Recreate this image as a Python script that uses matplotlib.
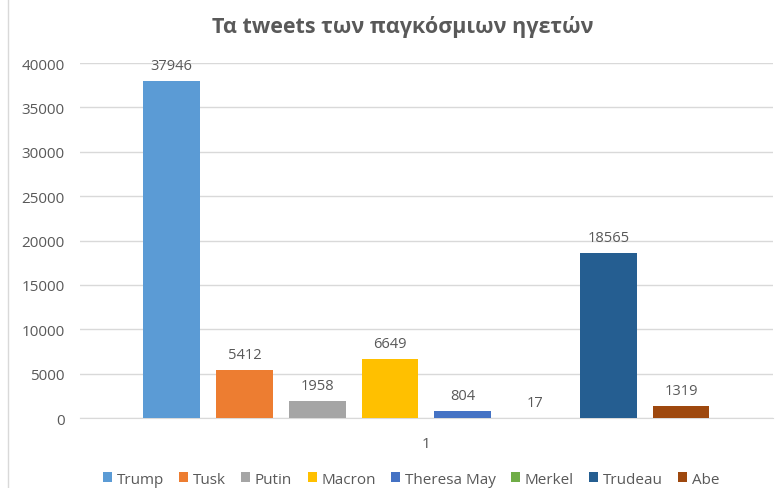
import matplotlib.pyplot as plt
from matplotlib.lines import Line2D

# Data
leaders = ['Trump', 'Tusk', 'Putin', 'Macron', 'Theresa May', 'Merkel', 'Trudeau', 'Abe']
tweets = [37946, 5412, 1958, 6649, 804, 17, 18565, 1319]
colors = ['#5B9BD5', '#ED7D31', '#A5A5A5', '#FFC000', '#4472C4', '#70AD47', '#255E91', '#9E480E']
category = '1'

plt.rcParams['font.family'] = ['Open Sans', 'DejaVu Sans']
text_color = '#595959'

fig = plt.figure(figsize=(7.83, 4.89), dpi=100)
ax = fig.add_axes([0.102, 0.143, 0.885, 0.726])

for i, (name, val, col) in enumerate(zip(leaders, tweets, colors)):
    ax.bar(i, val, width=0.78, color=col, label=name, zorder=3)
    ax.text(i, val + 900, f'{val}', ha='center', va='bottom',
            fontsize=10.5, color=text_color)

ax.set_xlim(-1.26, 8.26)
ax.set_ylim(0, 40000)
ax.set_yticks(range(0, 40001, 5000))
ax.set_xticks([3.5])
ax.set_xticklabels([category])
ax.tick_params(axis='both', length=0, labelsize=11, labelcolor=text_color)
ax.tick_params(axis='x', pad=13)
ax.tick_params(axis='y', pad=11)
ax.yaxis.grid(True, color='#D9D9D9', linewidth=1, zorder=0)
for s in ['top', 'right', 'left']:
    ax.spines[s].set_visible(False)
ax.spines['bottom'].set_color('#D9D9D9')

fig.text(0.515, 0.945, 'Τα tweets των παγκόσμιων ηγετών', ha='center', va='center',
         fontsize=15.5, fontweight='bold', color=text_color)

ax.legend(loc='center', bbox_to_anchor=(0.478, -0.172), ncol=8, frameon=False,
          fontsize=11, labelcolor=text_color, handlelength=0.6, handleheight=0.6,
          handletextpad=0.3, columnspacing=1.0)

fig.add_artist(Line2D([0.0102, 0.0102], [0, 1], color='#D9D9D9', linewidth=1))

fig.savefig('out.png', dpi=100)
